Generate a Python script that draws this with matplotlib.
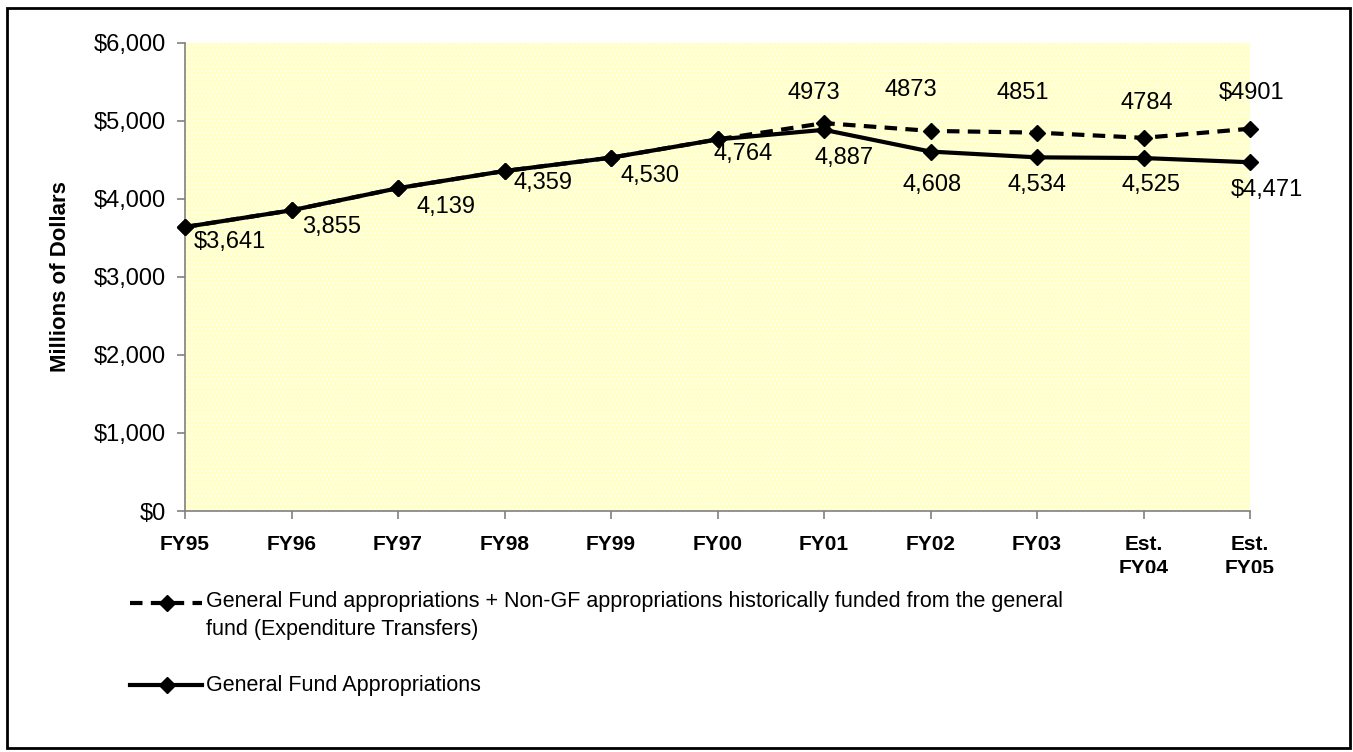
import matplotlib.pyplot as plt
from matplotlib.lines import Line2D
from matplotlib.patches import Rectangle
from matplotlib.transforms import Bbox

plt.rcParams['font.family'] = ['Liberation Sans', 'DejaVu Sans']
plt.rcParams['hatch.linewidth'] = 1.0

years = ['FY95', 'FY96', 'FY97', 'FY98', 'FY99', 'FY00', 'FY01', 'FY02', 'FY03', 'Est.\nFY04', 'Est.\nFY05']
gf_plus = [3641, 3855, 4139, 4359, 4530, 4764, 4973, 4873, 4851, 4784, 4901]
gf_only = [3641, 3855, 4139, 4359, 4530, 4764, 4887, 4608, 4534, 4525, 4471]
gf_plus_labels = ['', '', '', '', '', '', '4973', '4873', '4851', '4784', '$4901']
gf_only_labels = ['$3,641', '3,855', '4,139', '4,359', '4,530', '4,764', '4,887',
                  '4,608', '4,534', '4,525', '$4,471']

# label offsets in pixels (dx, dy) relative to the point
plus_off = [(0, 0)] * 6 + [(-10, 30), (-20, 41), (-14, 40), (3, 35), (2, 36)]
only_off = [(45, -15), (40, -17), (48, -19), (39, -12), (39, -18), (26, -15),
            (20, -28), (2, -33), (0, -28), (7, -27), (17, -28)]

W, H = 1353, 752
fig = plt.figure(figsize=(W / 100, H / 100), dpi=100)
ax = fig.add_axes([185 / W, 1 - 511 / H, (1250 - 185) / W, (511 - 43) / H])

# patterned yellow background
ax.set_facecolor('#ffffc8')
ax.add_patch(Rectangle((0, 0), 1, 1, transform=ax.transAxes, facecolor='none',
                       edgecolor='#ffffee', hatch='....', linewidth=0, zorder=0))

x = list(range(len(years)))
ax.plot(x, gf_plus, color='black', lw=3, dashes=(3.0, 2.0),
        marker='D', markersize=8.5, zorder=3, clip_on=False)
ax.plot(x, gf_only, color='black', lw=3, marker='D', markersize=8.5,
        zorder=4, clip_on=False)

for i in x:
    if gf_plus_labels[i]:
        ax.annotate(gf_plus_labels[i], (i, gf_plus[i]), xytext=plus_off[i],
                    textcoords='offset pixels', ha='center', va='center',
                    fontsize=17, annotation_clip=False)
    ax.annotate(gf_only_labels[i], (i, gf_only[i]), xytext=only_off[i],
                textcoords='offset pixels', ha='center', va='center',
                fontsize=17, annotation_clip=False)

ax.set_xlim(0, 10)
ax.set_ylim(0, 6000)
ax.set_yticks(range(0, 6001, 1000))
ax.set_yticklabels(['${:,}'.format(v) for v in range(0, 6001, 1000)], fontsize=17)
ax.set_xticks(x)
ax.set_xticklabels(years, fontsize=15, fontweight='bold', linespacing=1.35)
ax.tick_params(axis='both', direction='out', length=6, color='#808080', width=1.2)
ax.tick_params(axis='x', pad=11)
ax.tick_params(axis='y', pad=8)
for s in ['top', 'right']:
    ax.spines[s].set_visible(False)
for s in ['left', 'bottom']:
    ax.spines[s].set_color('#808080')
    ax.spines[s].set_linewidth(1.2)

# bottom of second tick-label line is cut off, as in the source
clip = Bbox.from_extents(0, H - 573, W, H)
for lbl in ax.get_xticklabels():
    lbl.set_clip_box(clip)
    lbl.set_clip_on(True)

fig.text(60 / W, 1 - 277 / H, 'Millions of Dollars', rotation=90, fontsize=16,
         fontweight='bold', ha='center', va='center')


# legend drawn by hand below the plot
def fx(px):
    return px / W


def fy(py):
    return 1 - py / H


fig.add_artist(Line2D([fx(130), fx(202)], [fy(603), fy(603)], color='black', lw=3,
                      dashes=(3.0, 2.0)))
fig.add_artist(Line2D([fx(167)], [fy(603)], color='black', marker='D', markersize=8.5))
fig.text(fx(206), fy(591), 'General Fund appropriations + Non-GF appropriations historically funded from the general\nfund (Expenditure Transfers)',
         fontsize=15.5, ha='left', va='top', linespacing=1.45)
fig.add_artist(Line2D([fx(130), fx(202)], [fy(685), fy(685)], color='black', lw=3))
fig.add_artist(Line2D([fx(167)], [fy(685)], color='black', marker='D', markersize=8.5))
fig.text(fx(206), fy(685), 'General Fund Appropriations', fontsize=15.5,
         ha='left', va='center')

fig.add_artist(Rectangle((fx(7), fy(748)), fx(1350) - fx(7), fy(8) - fy(748),
                         transform=fig.transFigure, fill=False, edgecolor='black', lw=2))

fig.savefig('out.png', dpi=100)
